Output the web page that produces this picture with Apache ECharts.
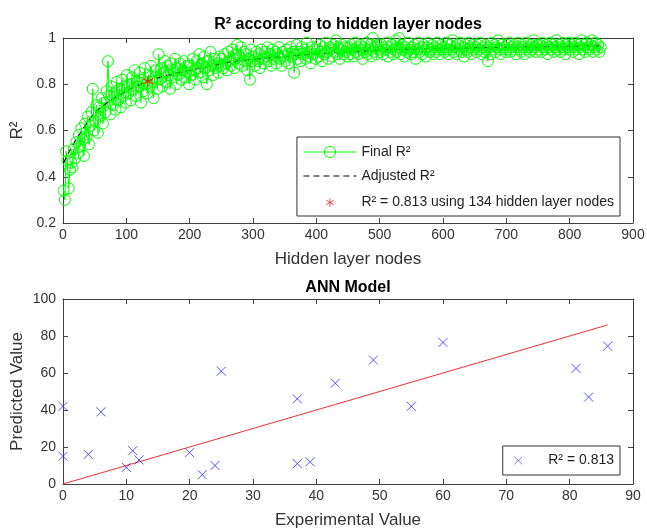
<!DOCTYPE html>
<html>
<head>
<meta charset="utf-8">
<title>R2 according to hidden layer nodes</title>
<script src="https://cdn.jsdelivr.net/npm/echarts@6.0.0/dist/echarts.min.js"></script>
<style>
html, body { margin: 0; padding: 0; background: #fff; }
#chart_js { width: 647px; height: 532px; }
</style>
</head>
<body>
<div id="chart_js"></div>
<script>
// 隐藏层节点: 1, 3, 5 ... 849
var nodeStart = 1;
var nodeStep = 2;

// Final R2, 每行 25 个点 (50 个节点)
var finalR2 = [
    0.34, 0.30, 0.51, 0.47, 0.35, 0.43, 0.46, 0.44, 0.52, 0.48, 0.55, 0.50, 0.58, 0.53, 0.61, 0.56, 0.49, 0.63, 0.57, 0.66, 0.54, 0.62, 0.68, 0.78, 0.60,
    0.64, 0.71, 0.59, 0.70, 0.66, 0.74, 0.63, 0.72, 0.68, 0.77, 0.90, 0.75, 0.67, 0.79, 0.71, 0.76, 0.69, 0.81, 0.73, 0.78, 0.70, 0.82, 0.75, 0.79, 0.72,
    0.84, 0.76, 0.80, 0.73, 0.83, 0.78, 0.86, 0.75, 0.81, 0.79, 0.85, 0.72, 0.82, 0.77, 0.87, 0.80, 0.76, 0.84, 0.79, 0.88, 0.81, 0.74, 0.83, 0.86, 0.78,
    0.93, 0.82, 0.87, 0.79, 0.85, 0.90, 0.81, 0.88, 0.84, 0.78, 0.89, 0.83, 0.86, 0.91, 0.80, 0.87, 0.84, 0.89, 0.82, 0.86, 0.90, 0.83, 0.88, 0.85, 0.80,
    0.88, 0.84, 0.91, 0.86, 0.82, 0.90, 0.87, 0.93, 0.85, 0.89, 0.83, 0.92, 0.87, 0.80, 0.90, 0.86, 0.94, 0.88, 0.84, 0.91, 0.87, 0.89, 0.85, 0.92, 0.88,
    0.91, 0.87, 0.93, 0.89, 0.86, 0.94, 0.90, 0.88, 0.95, 0.91, 0.87, 0.93, 0.97, 0.89, 0.92, 0.96, 0.88, 0.94, 0.90, 0.93, 0.86, 0.91, 0.82, 0.95, 0.90,
    0.92, 0.88, 0.94, 0.90, 0.93, 0.87, 0.95, 0.91, 0.89, 0.94, 0.92, 0.96, 0.90, 0.93, 0.88, 0.95, 0.91, 0.94, 0.89, 0.93, 0.96, 0.91, 0.88, 0.94, 0.92,
    0.90, 0.95, 0.93, 0.89, 0.96, 0.92, 0.94, 0.85, 0.93, 0.97, 0.91, 0.94, 0.90, 0.96, 0.93, 0.95, 0.91, 0.98, 0.92, 0.94, 0.89, 0.96, 0.93, 0.95, 0.91,
    0.95, 0.92, 0.97, 0.94, 0.90, 0.96, 0.93, 0.98, 0.94, 0.91, 0.96, 0.95, 0.92, 0.97, 0.94, 0.99, 0.93, 0.96, 0.91, 0.95, 0.97, 0.93, 0.96, 0.94, 0.92,
    0.96, 0.93, 0.97, 0.95, 0.92, 0.98, 0.94, 0.96, 0.93, 0.97, 0.95, 0.91, 0.96, 0.94, 0.98, 0.93, 0.95, 0.97, 0.92, 1.00, 0.94, 0.96, 0.93, 0.97, 0.95,
    0.94, 0.97, 0.93, 0.96, 0.95, 0.98, 0.92, 0.96, 0.94, 0.97, 0.93, 0.95, 0.99, 0.94, 0.96, 1.00, 0.93, 0.97, 0.95, 0.92, 0.96, 0.94, 0.98, 0.95, 0.93,
    0.96, 0.94, 0.97, 0.91, 0.95, 0.98, 0.94, 0.96, 0.93, 0.97, 0.95, 0.92, 0.96, 0.98, 0.94, 0.95, 0.97, 0.93, 0.96, 0.94, 0.98, 0.95, 0.93, 0.97, 0.95,
    0.96, 0.94, 0.98, 0.95, 0.93, 0.97, 0.95, 0.99, 0.94, 0.96, 0.93, 0.97, 0.95, 0.98, 0.94, 0.96, 0.92, 0.97, 0.95, 0.94, 0.98, 0.96, 0.93, 0.97, 0.95,
    0.96, 0.94, 0.97, 0.95, 0.98, 0.93, 0.96, 0.94, 0.97, 0.95, 0.90, 0.96, 0.93, 0.98, 0.95, 0.97, 0.94, 0.96, 0.99, 0.95, 0.93, 0.97, 0.95, 0.96, 0.94,
    0.97, 0.95, 0.98, 0.94, 0.96, 0.95, 0.97, 0.93, 0.96, 0.98, 0.95, 0.94, 0.97, 0.96, 0.93, 0.98, 0.95, 0.96, 0.94, 0.97, 0.95, 0.99, 0.96, 0.94, 0.97,
    0.95, 0.97, 0.94, 0.98, 0.96, 0.95, 0.97, 0.93, 0.96, 0.98, 0.95, 0.97, 0.94, 0.96, 0.99, 0.95, 0.97, 0.94, 0.96, 0.98, 0.95, 0.93, 0.97, 0.96, 0.98,
    0.95, 0.97, 0.94, 0.96, 0.98, 0.95, 0.97, 0.93, 0.96, 0.99, 0.95, 0.97, 0.94, 0.98, 0.96, 0.95, 0.97, 0.99, 0.94, 0.96, 0.98, 0.95, 0.97, 0.94, 0.96
];

// Adjusted R2
var adjNodes = [1, 10, 25, 50, 75, 100, 134, 175, 200, 275, 350, 450, 550, 650, 750, 850];
var adjR2 = [0.46, 0.51, 0.58, 0.675, 0.73, 0.77, 0.813, 0.845, 0.86, 0.90, 0.92, 0.94, 0.952, 0.958, 0.962, 0.965];

// 最优点
var bestNode = [134];
var bestR2 = [0.813];

// ANN 模型
var expValue = [0, 0, 4, 6, 10, 11, 12, 20, 22, 24, 25, 37, 37, 39, 43, 49, 55, 60, 81, 83, 86];
var predValue = [42, 15, 16, 39, 9, 18, 13, 17, 5, 10, 61, 46, 11, 12, 54.5, 67, 42, 76.5, 62.5, 47, 74.5];
var fitX = [0, 86];
var fitY = [0, 86];

(function(window) {
    'use strict';
    var font = '"Liberation Sans", Arial, sans-serif';
    var axisColor = '#404040';
    var labelColor = '#333';
    var green = '#00ff00';
    var starName = 'R² = 0.813 using 134 hidden layer nodes';
    var crossName = 'R² = 0.813';
    var starPath = 'path://M0,-1L0,1M-0.87,-0.5L0.87,0.5M-0.87,0.5L0.87,-0.5';
    var crossPath = 'path://M-1,-1L1,1M-1,1L1,-1';

    function zip(xs, ys) {
        return xs.map(function(x, i) {
            return [x, ys[i]];
        });
    }

    var finalData = finalR2.map(function(v, i) {
        return [nodeStart + i * nodeStep, v];
    });

    // 坐标轴 (四边框, 刻度朝内)
    function axis(grid, pos, min, max, interval, extra) {
        var a = {
            gridIndex: grid,
            type: 'value',
            position: pos,
            min: min,
            max: max,
            interval: interval,
            splitLine: { show: false },
            axisLine: { show: true, onZero: false, lineStyle: { color: axisColor, width: 1 } },
            axisTick: { show: true, inside: true, length: 5, lineStyle: { color: axisColor } },
            axisLabel: { show: false }
        };
        if (extra) {
            a.axisLabel = {
                show: true,
                color: labelColor,
                fontFamily: font,
                fontSize: 14,
                margin: pos === 'left' ? 7 : 5
            };
            a.name = extra;
            a.nameLocation = 'middle';
            a.nameMoveOverlap = false;
            a.nameGap = pos === 'left' ? 37 : 28;
            a.nameTextStyle = { color: labelColor, fontFamily: font, fontSize: 17 };
        }
        return a;
    }

    var legendBase = {
        orient: 'vertical',
        right: 27,
        itemGap: 10,
        itemHeight: 14,
        borderColor: '#333',
        borderWidth: 1,
        borderRadius: 0,
        backgroundColor: '#fff',
        selectedMode: false,
        textStyle: { fontFamily: font, fontSize: 14, color: '#222' }
    };

    var option = {
        animation: false,
        backgroundColor: '#fff',
        title: [{
            text: 'R² according to hidden layer nodes',
            left: 348,
            top: 17,
            padding: 0,
            textAlign: 'center',
            textStyle: { fontFamily: font, fontSize: 16, fontWeight: 'bold', color: '#000' }
        }, {
            text: 'ANN Model',
            left: 348,
            top: 280,
            padding: 0,
            textAlign: 'center',
            textStyle: { fontFamily: font, fontSize: 16, fontWeight: 'bold', color: '#000' }
        }],
        legend: [
            Object.assign({}, legendBase, {
                top: 137,
                itemWidth: 53,
                padding: [8, 6, 4, 6],
                data: [
                    { name: 'Final R²', lineStyle: { width: 1 }, itemStyle: { borderWidth: 1 } },
                    { name: 'Adjusted R²', lineStyle: { width: 1 } },
                    {
                        name: starName,
                        icon: 'path://M0,-1.6M0,1.6M0,-1L0,1M-0.87,-0.5L0.87,0.5M-0.87,0.5L0.87,-0.5',
                        itemStyle: { borderWidth: 0.8 }
                    }
                ]
            }),
            Object.assign({}, legendBase, {
                top: 446,
                itemWidth: 50,
                padding: [5, 6, 5, 6],
                data: [{
                    name: crossName,
                    icon: 'path://M-1.8,-1.8M1.8,1.8M-1,-1L1,1M-1,1L1,-1',
                    itemStyle: { borderWidth: 0.8 }
                }]
            })
        ],
        grid: [
            { left: 63, top: 38, width: 570, height: 185, outerBoundsMode: 'none', containLabel: false },
            { left: 63, top: 299, width: 570, height: 185, outerBoundsMode: 'none', containLabel: false }
        ],
        xAxis: [
            axis(0, 'bottom', 0, 900, 100, 'Hidden layer nodes'),
            axis(0, 'top', 0, 900, 100),
            axis(1, 'bottom', 0, 90, 10, 'Experimental Value'),
            axis(1, 'top', 0, 90, 10)
        ],
        yAxis: [
            axis(0, 'left', 0.2, 1, 0.2, 'R²'),
            axis(0, 'right', 0.2, 1, 0.2),
            axis(1, 'left', 0, 100, 20, 'Predicted Value'),
            axis(1, 'right', 0, 100, 20)
        ],
        series: [{
            name: 'Final R²',
            type: 'line',
            xAxisIndex: 0,
            yAxisIndex: 0,
            data: finalData,
            symbol: 'circle',
            symbolSize: 11,
            itemStyle: { color: 'rgba(0,0,0,0)', borderColor: green, borderWidth: 1 },
            lineStyle: { color: green, width: 1 },
            emphasis: { disabled: true }
        }, {
            name: 'Adjusted R²',
            type: 'line',
            xAxisIndex: 0,
            yAxisIndex: 0,
            data: zip(adjNodes, adjR2),
            smooth: 0.3,
            symbol: 'none',
            itemStyle: { color: 'rgba(0,0,0,0)', borderWidth: 0 },
            lineStyle: { color: '#000', width: 1.2, type: [6, 4] },
            emphasis: { disabled: true },
            z: 3
        }, {
            name: starName,
            type: 'scatter',
            xAxisIndex: 0,
            yAxisIndex: 0,
            data: zip(bestNode, bestR2),
            symbol: starPath,
            symbolSize: 11,
            itemStyle: { color: 'none', borderColor: '#ff0000', borderWidth: 1.2 },
            z: 5
        }, {
            name: 'fit',
            type: 'line',
            xAxisIndex: 2,
            yAxisIndex: 2,
            data: zip(fitX, fitY),
            symbol: 'none',
            lineStyle: { color: '#f03030', width: 1 },
            emphasis: { disabled: true }
        }, {
            name: crossName,
            type: 'scatter',
            xAxisIndex: 2,
            yAxisIndex: 2,
            data: zip(expValue, predValue),
            symbol: crossPath,
            symbolSize: 9,
            itemStyle: { color: 'none', borderColor: '#2b2bff', borderWidth: 1 },
            z: 4
        }]
    };

    var chart = echarts.init(document.getElementById('chart_js'));
    chart.setOption(option);
})(window);
</script>
</body>
</html>
